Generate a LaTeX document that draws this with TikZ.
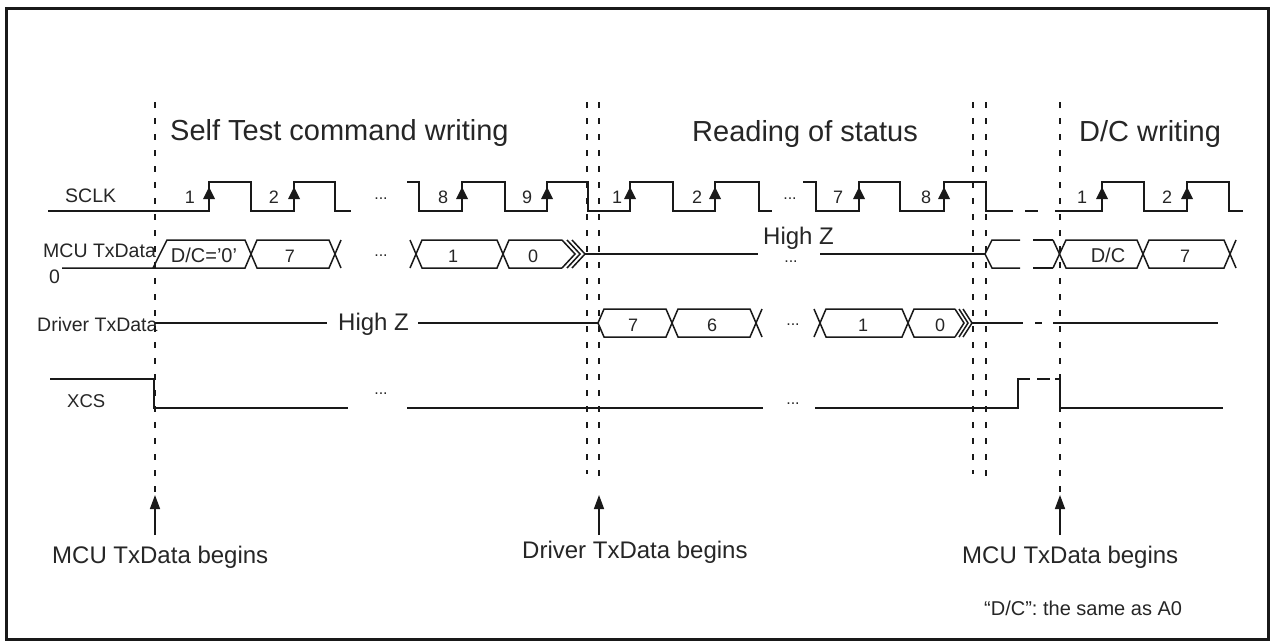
\documentclass[tikz,border=0pt]{standalone}
\usepackage{fontspec}
\setmainfont{Liberation Sans}
\usetikzlibrary{arrows.meta}
\begin{document}
\begin{tikzpicture}[x=1pt,y=-1pt,
  sig/.style={line width=1.5pt, draw=black!90, line join=miter},
  vdash/.style={line width=1.4pt, draw=black!90, dash pattern=on 6pt off 10pt},
  txt/.style={inner sep=0pt, text=black!85},
  head/.style={txt, anchor=base west, font=\fontsize{29}{34}\selectfont},
  big/.style={txt, anchor=base west, font=\fontsize{24}{28}\selectfont},
  note/.style={txt, anchor=base west, font=\fontsize{20}{24}\selectfont},
  sname/.style={txt, anchor=base west, font=\fontsize{19.5}{23}\selectfont},
  num/.style={txt, anchor=base, font=\fontsize{18}{22}\selectfont},
  dots/.style={txt, anchor=base, font=\fontsize{16}{20}\selectfont},
  uparrow/.style={sig, -{Triangle[length=14pt,width=10pt]}}
]
\useasboundingbox (0,0) rectangle (1273,643);
\fill[white] (0,0) rectangle (1273,643);
\draw[line width=3pt, draw=black!90] (6,8) rectangle (1268,639);

% headings
\node[head] (h1) at (170,140) {Self Test command writing};
\node[head] (h2) at (692,141) {Reading of status};
\node[head] (h3) at (1079,141) {D/C writing};

% signal names
\node[sname] (nclk) at (65,202) {SCLK};
\node[sname] (nmcu) at (43,257) {MCU TxData};
\node[sname] (nmcu0) at (49,283) {0};
\node[sname] (ndrv) at (37,331) {Driver TxData};
\node[sname, font=\fontsize{18.5}{22}\selectfont] (nxcs) at (67,407) {XCS};

% dashed vertical markers
\draw[vdash] (155,102) -- (155,492);
\draw[vdash] (587,102) -- (587,474);
\draw[vdash] (599,102) -- (599,478);
\draw[vdash] (973,102) -- (973,474);
\draw[vdash] (986,102) -- (986,478);
\draw[vdash] (1060,102) -- (1060,492);

% SCLK
\draw[sig] (48,211) -- (209,211) -- (209,182) -- (251,182) -- (251,211) -- (294,211) -- (294,182) -- (335,182) -- (335,211) -- (351,211);
\draw[sig] (407,182) -- (419,182) -- (419,211) -- (462,211) -- (462,182) -- (505,182) -- (505,211) -- (547,211) -- (547,182) -- (588,182) -- (588,211) -- (630,211) -- (630,182) -- (673,182) -- (673,211) -- (715,211) -- (715,182) -- (759,182) -- (759,211) -- (772,211);
\draw[sig] (803,182) -- (816,182) -- (816,211) -- (859,211) -- (859,182) -- (900,182) -- (900,211) -- (944,211) -- (944,182) -- (986,182) -- (986,211) -- (1013,211);
\draw[sig] (1025,211) -- (1038,211);
\draw[sig] (1055,211) -- (1102,211) -- (1102,182) -- (1144,182) -- (1144,211) -- (1187,211) -- (1187,182) -- (1229,182) -- (1229,211) -- (1243,211);
\foreach \x in {209,294,462,547,630,715,859,944,1102,1187}
  \fill[black!90] ({\x-6},199) -- ({\x+6},199) -- (\x,187) -- cycle;
\foreach \x/\n in {190/1,274/2,443/8,527/9,617/1,697/2,838/7,926/8,1082/1,1167/2}
  \node[num] (ck\x) at (\x,203) {\n};
\node[dots] (dc1) at (381,199) {...};
\node[dots] (dc2) at (790,199) {...};

% MCU TxData
\draw[sig] (62,268) -- (245,268) -- (257,240) -- (329,240) -- (341,268);
\draw[sig] (153,268) -- (167,240) -- (245,240) -- (257,268) -- (329,268) -- (341,240);
\draw[sig] (410,240) -- (422,268) -- (497,268) -- (509,240) -- (562,240);
\draw[sig] (410,268) -- (422,240) -- (497,240) -- (509,268) -- (562,268);
\foreach \d in {0,5,10}
  \draw[sig] ({562+\d},240) -- ({575+\d},254) -- ({562+\d},268);
\draw[sig] (585,254) -- (758,254);
\draw[sig] (820,254) -- (985,254);
\draw[sig] (1020,240) -- (992,240) -- (985,254) -- (992,268) -- (1020,268);
\draw[sig] (1033,240) -- (1053,240);
\draw[sig] (1033,268) -- (1053,268);
\draw[sig] (1053,240) -- (1066,268) -- (1137,268) -- (1149,240) -- (1224,240) -- (1236,268);
\draw[sig] (1053,268) -- (1066,240) -- (1137,240) -- (1149,268) -- (1224,268) -- (1236,240);
\node[num, font=\fontsize{20}{24}\selectfont] (m1) at (204,262) {D/C='0'};
\node[num] (m2) at (290,262) {7};
\node[num] (m3) at (453,262) {1};
\node[num] (m4) at (533,262) {0};
\node[num, font=\fontsize{20}{24}\selectfont] (m5) at (1108,262) {D/C};
\node[num] (m6) at (1185,262) {7};
\node[big] (hz1) at (763,244) {High Z};
\node[dots] (dm1) at (381,256) {...};
\node[dots] (dm2) at (791,262) {...};

% Driver TxData
\draw[sig] (155,323) -- (327,323);
\draw[sig] (418,323) -- (598,323);
\draw[sig] (598,323) -- (604,309) -- (666,309) -- (678,337) -- (750,337) -- (762,309);
\draw[sig] (598,323) -- (604,337) -- (666,337) -- (678,309) -- (750,309) -- (762,337);
\draw[sig] (814,309) -- (826,337) -- (902,337) -- (914,309) -- (955,309);
\draw[sig] (814,337) -- (826,309) -- (902,309) -- (914,337) -- (955,337);
\foreach \d in {0,4,8}
  \draw[sig] ({955+\d},309) -- ({964+\d},323) -- ({955+\d},337);
\draw[sig] (972,323) -- (1023,323);
\draw[sig] (1035,323) -- (1042,323);
\draw[sig] (1053,323) -- (1218,323);
\node[big] (hz2) at (338,330) {High Z};
\node[num] (d1) at (633,331) {7};
\node[num] (d2) at (712,331) {6};
\node[num] (d3) at (863,331) {1};
\node[num] (d4) at (940,331) {0};
\node[dots] (dd1) at (793,325) {...};

% XCS
\draw[sig] (50,379) -- (154,379) -- (154,408) -- (348,408);
\draw[sig] (407,408) -- (763,408);
\draw[sig] (815,408) -- (1018,408) -- (1018,379) -- (1030,379);
\draw[sig] (1037,379) -- (1050,379);
\draw[sig] (1055,379) -- (1060,379) -- (1060,408) -- (1223,408);
\node[dots] (dx1) at (381,394) {...};
\node[dots] (dx2) at (793,404) {...};

% bottom arrows and labels
\coordinate (t1) at (155,535); \coordinate (p1) at (155,495);
\coordinate (t2) at (599,535); \coordinate (p2) at (599,495);
\coordinate (t3) at (1060,535); \coordinate (p3) at (1060,495);
\draw[uparrow] (t1) -- (p1);
\draw[uparrow] (t2) -- (p2);
\draw[uparrow] (t3) -- (p3);
\node[big] (b1) at (52,563) {MCU TxData begins};
\node[big] (b2) at (522,558) {Driver TxData begins};
\node[big] (b3) at (962,563) {MCU TxData begins};
\node[note] (b4) at (984,615) {“D/C”: the same as A0};
\end{tikzpicture}
\end{document}
